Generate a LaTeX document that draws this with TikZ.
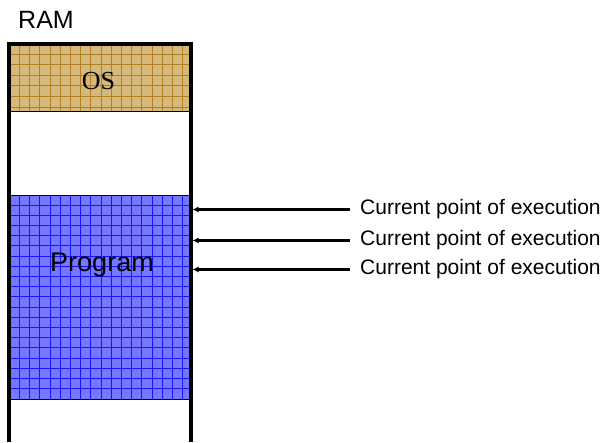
\documentclass[tikz,border=0pt]{standalone}
\usepackage{fontspec}
\setmainfont{Liberation Serif}
\newfontfamily\arialf{Liberation Sans}
\usetikzlibrary{arrows.meta}
\definecolor{osfill}{RGB}{214,184,122}
\definecolor{osline}{RGB}{176,128,32}
\definecolor{prfill}{RGB}{118,118,255}
\definecolor{prline}{RGB}{20,20,255}
\begin{document}
\begin{tikzpicture}[x=1pt,y=-1pt,
  wall/.style={line width=4pt},
  region/.style={draw=black,line width=0.8pt},
  lbl/.style={inner sep=0pt,font=\arialf\fontsize{21}{24}\selectfont},
  ptr/.style={line width=2.2pt,-{Latex[length=6pt,width=6pt]},shorten <=10pt}]
\useasboundingbox (0,0) rectangle (607,442);
% regions
\fill[osfill] (10,44) rectangle (189,111);
\foreach \x in {19.3,29.5,...,185} \draw[osline,line width=0.8pt] (\x,44) -- (\x,111);
\foreach \y in {54,64.6,...,110} \draw[osline,line width=0.8pt] (10,\y) -- (189,\y);
\node[region,fill=none,minimum width=179pt,minimum height=67pt,anchor=north west,inner sep=0pt] (os) at (10,44) {};
\fill[prfill] (10,195) rectangle (189,399);
\foreach \x in {19.3,29.5,...,185} \draw[prline,line width=0.7pt] (\x,195) -- (\x,399);
\foreach \y in {205,215.2,...,398} \draw[prline,line width=0.7pt] (10,\y) -- (189,\y);
\node[region,fill=none,minimum width=179pt,minimum height=204pt,anchor=north west,inner sep=0pt] (prog) at (10,195) {};
% walls
\draw[wall] (8.5,442) -- (8.5,43.5) -- (190.5,43.5) -- (190.5,442);
% texts
\node[inner sep=0pt,anchor=base west,font=\arialf\fontsize{25}{28}\selectfont] (ram) at (18,28) {RAM};
\node[inner sep=0pt,anchor=base,font=\fontsize{26}{28}\selectfont] (ostxt) at (98.5,89) {OS};
\node[inner sep=0pt,anchor=base,font=\arialf\fontsize{27}{30}\selectfont] (prtxt) at (102,271.5) {Program};
\node[lbl,anchor=base west] (t1) at (360,214) {Current point of execution};
\node[lbl,anchor=base west] (t2) at (360,245) {Current point of execution};
\node[lbl,anchor=base west] (t3) at (360,274) {Current point of execution};
\coordinate (p1) at (192.5,209.5);
\coordinate (p2) at (192.5,240.5);
\coordinate (p3) at (192.5,269.5);
\draw[ptr] (t1.west |- p1) -- (p1);
\draw[ptr] (t2.west |- p2) -- (p2);
\draw[ptr] (t3.west |- p3) -- (p3);
\end{tikzpicture}
\end{document}
